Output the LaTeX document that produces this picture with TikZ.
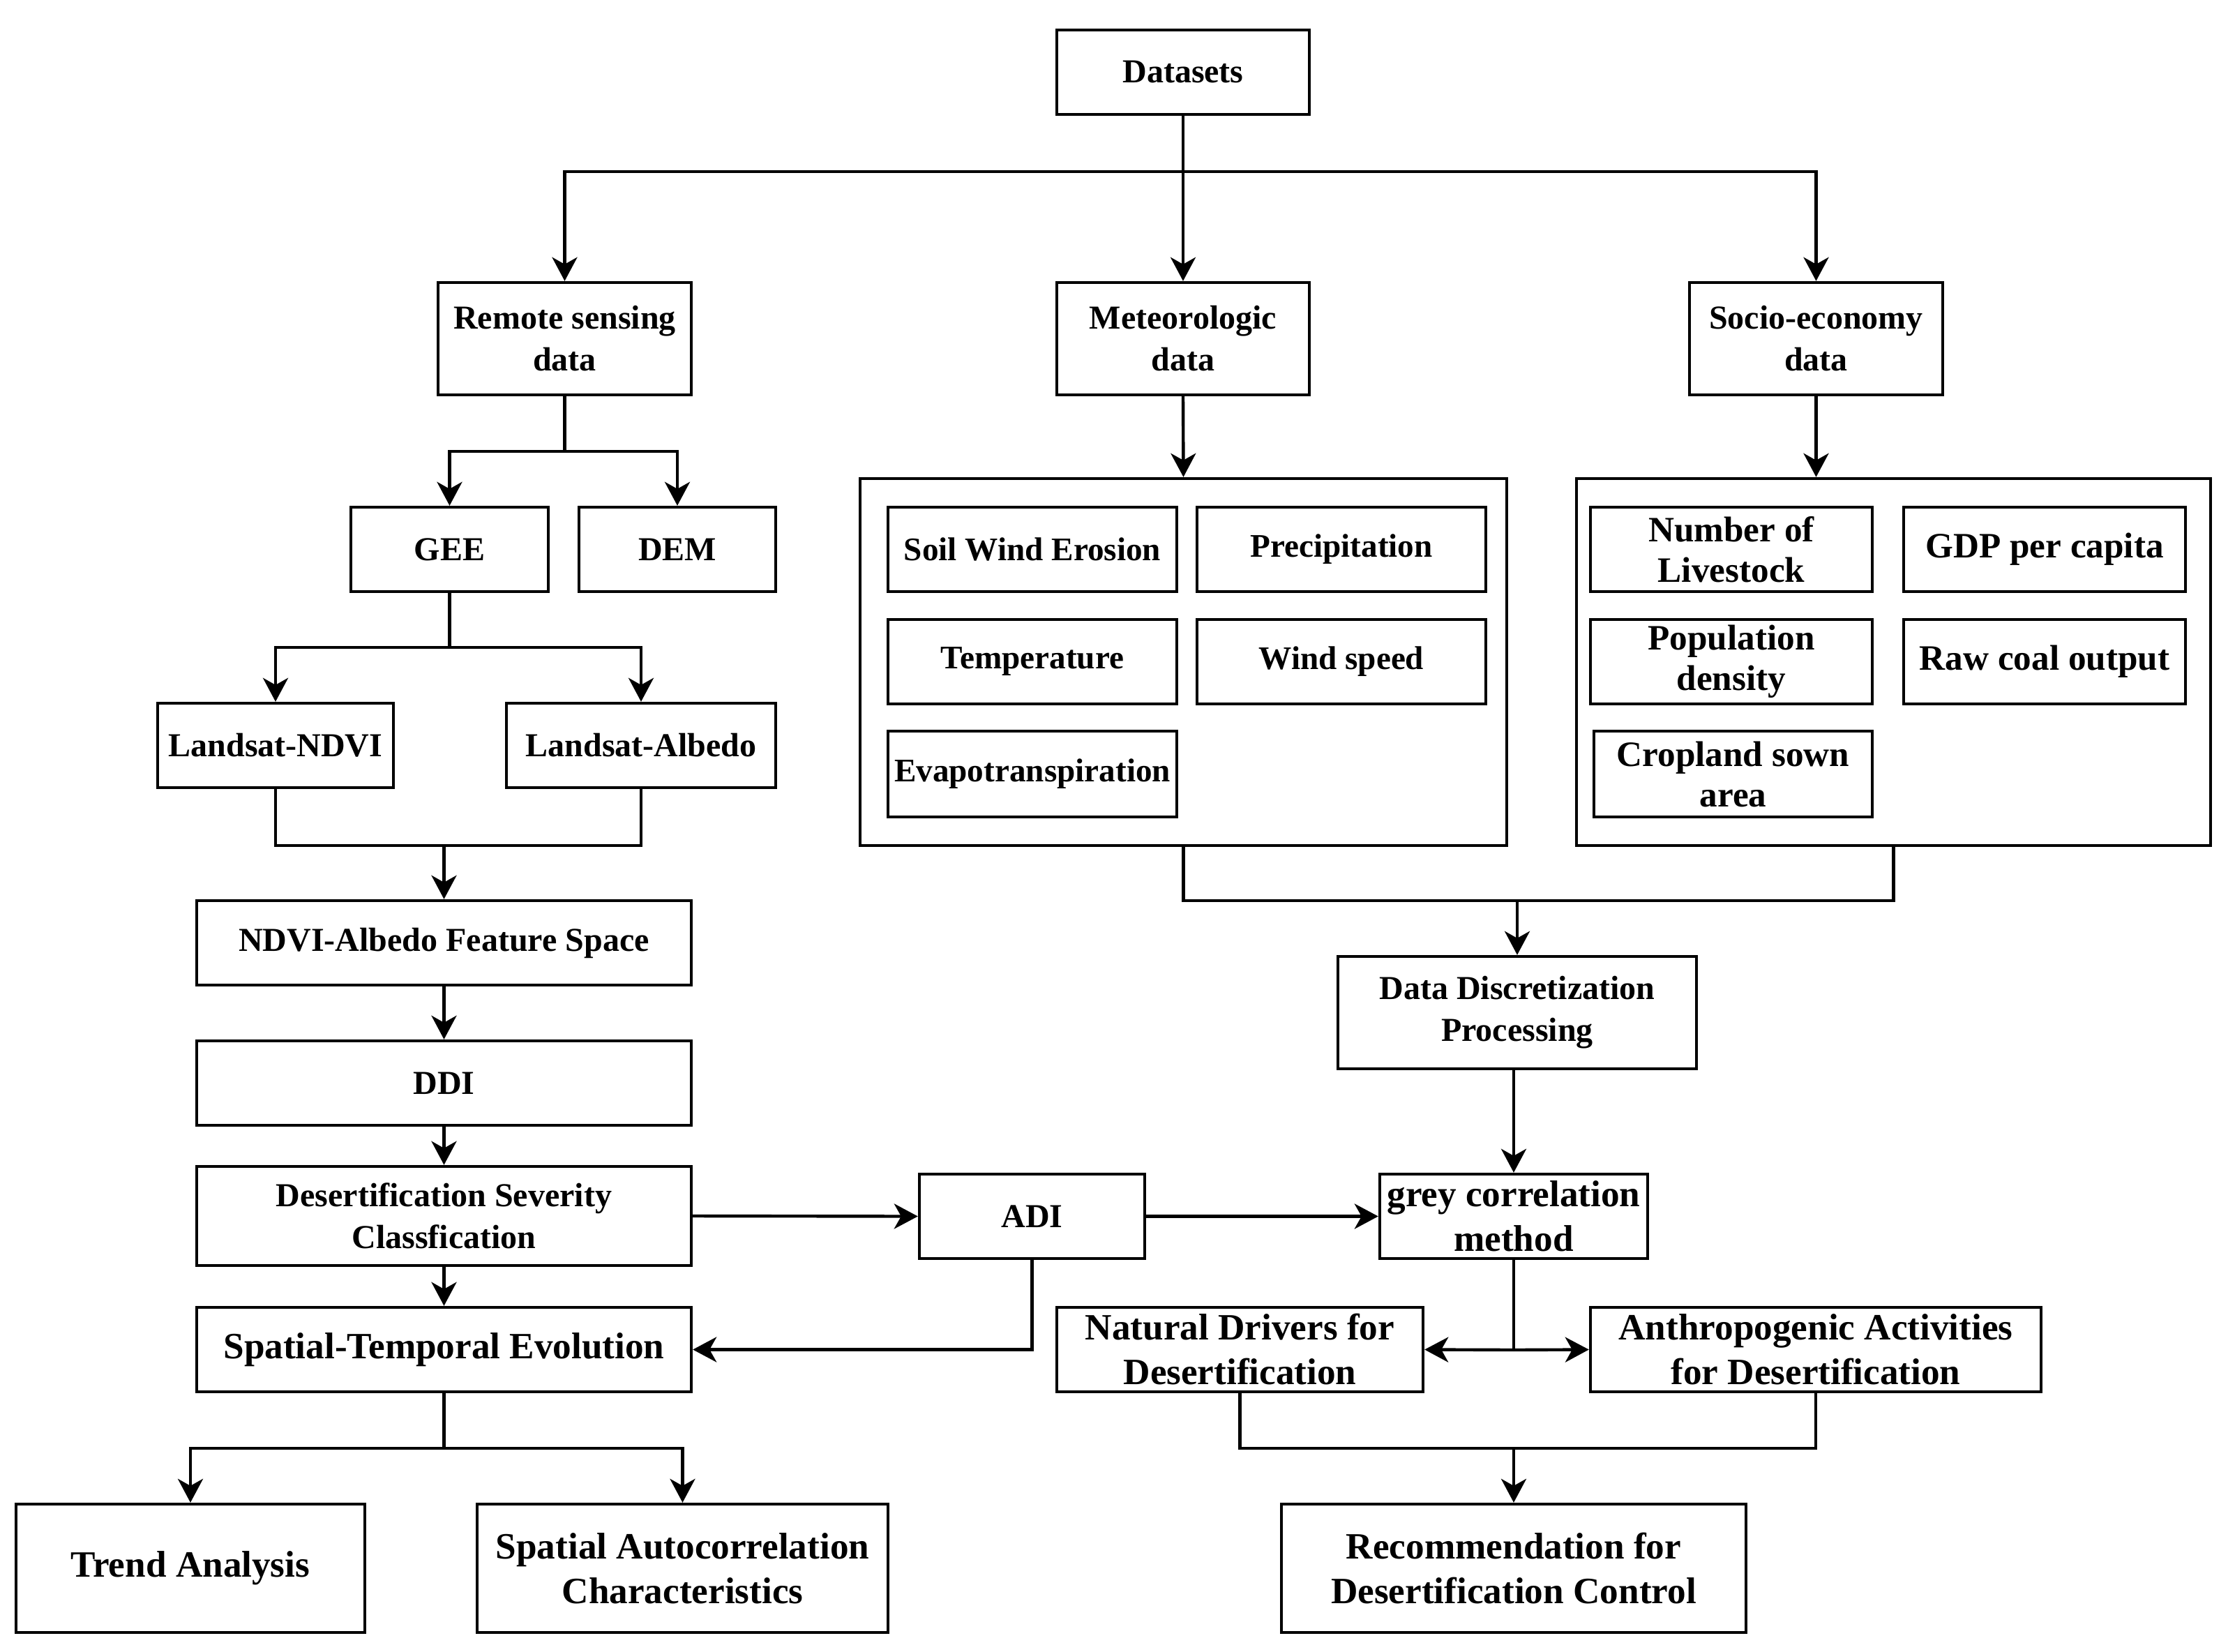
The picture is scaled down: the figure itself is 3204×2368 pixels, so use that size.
\documentclass[tikz,border=0pt]{standalone}
\usepackage{fontspec}
\setmainfont{Liberation Serif}
\usetikzlibrary{arrows.meta}
\tikzset{
  box/.style={draw, line width=1.1pt, rectangle, align=center, inner sep=1pt,
    font=\bfseries\fontsize{12}{15}\selectfont},
  bigbox/.style={box, font=\bfseries\fontsize{13.3}{16}\selectfont},
  midbox/.style={box, font=\bfseries\fontsize{12.8}{14.5}\selectfont},
  metbox/.style={box, font=\bfseries\fontsize{11.8}{14.5}\selectfont},
  frame/.style={draw, line width=1.1pt, rectangle},
  conn/.style={line width=1.1pt},
  arr/.style={line width=1.1pt, -{Stealth[length=8.5pt,width=9pt,inset=2.5pt]}},
}
\begin{document}
\begin{tikzpicture}[x=0.25pt,y=-0.25pt]
\useasboundingbox (0,0) rectangle (3204,2368);
% top level
\node[box, minimum width=90.5pt, minimum height=30.25pt] (ds) at (1696,103.5) {Datasets};
\node[box, minimum width=90.75pt, minimum height=40.25pt] (rs) at (809.5,485.5) {Remote sensing\\data};
\node[box, minimum width=90.5pt, minimum height=40.25pt] (met) at (1696,485.5) {Meteorologic\\data};
\node[box, minimum width=90.75pt, minimum height=40.25pt] (soc) at (2603.5,485.5) {Socio-economy\\data};
% remote sensing branch
\node[box, minimum width=70.75pt, minimum height=30.25pt] (gee) at (644.5,787.5) {GEE};
\node[box, minimum width=70.5pt, minimum height=30.25pt] (dem) at (971,787.5) {DEM};
\node[box, minimum width=84.5pt, minimum height=30.25pt] (ndvi) at (395,1068.5) {Landsat-NDVI};
\node[box, minimum width=96.5pt, minimum height=30.25pt] (alb) at (919,1068.5) {Landsat-Albedo};
% containers
\node[frame, minimum width=231.75pt, minimum height=131.5pt] (metc) at (1696.5,949) {};
\node[frame, minimum width=227.25pt, minimum height=131.5pt] (socc) at (2714.5,949) {};
% meteorologic items
\node[metbox, minimum width=103.5pt, minimum height=30.25pt] (swe) at (1480,787.5) {Soil Wind Erosion};
\node[metbox, minimum width=103.5pt, minimum height=30.25pt] (pre) at (1923,787.5) {Precipitation};
\node[metbox, minimum width=103.5pt, minimum height=30.25pt] (tem) at (1480,948.5) {Temperature};
\node[metbox, minimum width=103.5pt, minimum height=30.25pt] (wsp) at (1923,948.5) {Wind speed};
\node[metbox, minimum width=103.5pt, minimum height=30.75pt] (eva) at (1480,1109.5) {Evapotranspiration};
% socio items
\node[midbox, minimum width=101pt, minimum height=30.25pt] (liv) at (2482,787.5) {Number of\\Livestock};
\node[midbox, minimum width=101pt, minimum height=30.25pt] (gdp) at (2931,787.5) {GDP per capita};
\node[midbox, minimum width=101pt, minimum height=30.25pt] (pop) at (2482,948.5) {Population\\density};
\node[midbox, minimum width=101pt, minimum height=30.25pt] (coal) at (2931,948.5) {Raw coal output};
\node[midbox, minimum width=99.75pt, minimum height=30.75pt] (crop) at (2484.5,1109.5) {Cropland sown\\area};
% left column
\node[box, minimum width=177.25pt, minimum height=30.25pt] (nafs) at (636.5,1351.5) {NDVI-Albedo Feature Space};
\node[box, minimum width=177.25pt, minimum height=30.25pt] (ddi) at (636.5,1552.5) {DDI};
\node[box, minimum width=177.25pt, minimum height=35.5pt] (dsc) at (636.5,1743) {Desertification Severity\\Classfication};
\node[bigbox, minimum width=177.25pt, minimum height=30.25pt] (ste) at (636.5,1934.5) {Spatial-Temporal Evolution};
\node[box, minimum width=80.75pt, minimum height=30.25pt] (adi) at (1479.5,1743.5) {ADI};
\node[bigbox, minimum width=125pt, minimum height=46pt] (trend) at (273,2248) {Trend Analysis};
\node[bigbox, minimum width=147.25pt, minimum height=46pt] (sac) at (978.5,2248) {Spatial Autocorrelation\\Characteristics};
% right column
\node[box, minimum width=128.5pt, minimum height=40.25pt] (ddp) at (2175,1451.5) {Data Discretization\\Processing};
\node[bigbox, minimum width=96pt, minimum height=30.25pt] (grey) at (2170,1743.5) {grey correlation\\method};
\node[bigbox, minimum width=131.25pt, minimum height=30.25pt] (nat) at (1777.5,1934.5) {Natural Drivers for\\Desertification};
\node[bigbox, minimum width=161.5pt, minimum height=30.25pt] (ant) at (2603,1934.5) {Anthropogenic Activities\\for Desertification};
\node[bigbox, minimum width=166.5pt, minimum height=46pt] (rec) at (2170,2248) {Recommendation for\\Desertification Control};
% junction coordinates
\coordinate (j1) at (1696,246);
\coordinate (j2) at (809.5,647);
\coordinate (j3) at (644.5,928);
\coordinate (j4) at (636.5,1212);
\coordinate (j5) at (636.5,2076);
\coordinate (j6) at (2175,1291);
\coordinate (j7) at (2170,1935);
\coordinate (j8) at (2170,2076);
% connectors
\draw[arr] (ds.south) -- (met.north);
\draw[arr] (j1) -| (rs.north);
\draw[arr] (j1) -| (soc.north);
\draw[conn] (rs.south) -- (j2);
\draw[arr] (j2) -| (gee.north);
\draw[arr] (j2) -| (dem.north);
\draw[conn] (gee.south) -- (j3);
\draw[arr] (j3) -| (ndvi.north);
\draw[arr] (j3) -| (alb.north);
\draw[arr] (met.south) -- (metc.north);
\draw[arr] (soc.south) -- (soc.south |- socc.north);
\draw[conn] (ndvi.south) |- (j4) -| (alb.south);
\draw[arr] (j4) -- (nafs.north);
\draw[arr] (nafs.south) -- (ddi.north);
\draw[arr] (ddi.south) -- (dsc.north);
\draw[arr] (dsc.south) -- (ste.north);
\draw[arr] (dsc.east) -- (adi.west);
\draw[arr] (adi.east) -- (grey.west);
\draw[arr] (adi.south) |- (ste.east);
\draw[conn] (ste.south) -- (j5);
\draw[arr] (j5) -| (trend.north);
\draw[arr] (j5) -| (sac.north);
\draw[conn] (metc.south) |- (j6) -| (socc.south);
\draw[arr] (j6) -- (ddp.north);
\draw[arr] (ddp.south -| grey.north) -- (grey.north);
\draw[conn] (grey.south) -- (j7);
\draw[arr] (j7) -- (nat.east);
\draw[arr] (j7) -- (ant.west);
\draw[conn] (nat.south) |- (j8) -| (ant.south);
\draw[arr] (j8) -- (rec.north);
\end{tikzpicture}
\end{document}
